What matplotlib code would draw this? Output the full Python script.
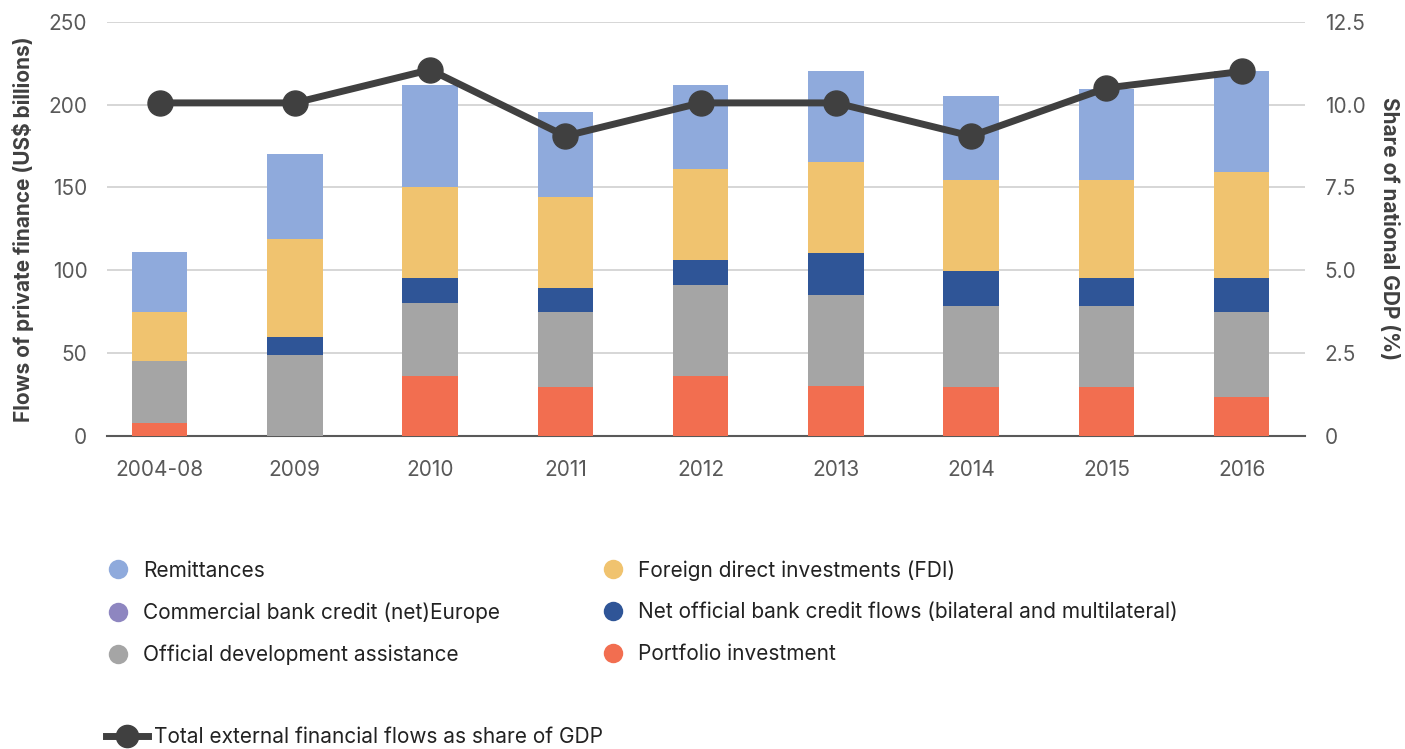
import numpy as np
import matplotlib.pyplot as plt
from matplotlib.lines import Line2D

plt.rcParams['font.family'] = ['Inter', 'DejaVu Sans']

# Données (US$ milliards, valeurs empilées)
years = ["2004-08", "2009", "2010", "2011", "2012", "2013", "2014", "2015", "2016"]
portfolio = [8, 0, 36, 29.5, 36, 30, 29.5, 29.5, 23.5]
oda = [37, 49, 44, 45, 55, 55, 49, 49, 51]
commercial = [0, 0, 0, 0, 0, 0, 0, 0, 0]
net_official = [0, 11, 15.5, 15, 15, 25.5, 21, 17, 21]
fdi = [29.5, 59, 55, 55, 55, 55, 55, 59, 63.5]
remittances = [36.5, 51, 61.5, 51, 51, 54.5, 50.5, 55, 61.5]
share_gdp = [10.05, 10.05, 11.05, 9.05, 10.05, 10.05, 9.05, 10.5, 11.0]

series = [
    ("Portfolio investment", portfolio, "#F26E50"),
    ("Official development assistance", oda, "#A5A5A5"),
    ("Commercial bank credit (net)Europe", commercial, "#8E86C0"),
    ("Net official bank credit flows (bilateral and multilateral)", net_official, "#2F5597"),
    ("Foreign direct investments (FDI)", fdi, "#F0C36F"),
    ("Remittances", remittances, "#8FAADC"),
]
couleurs = {nom: c for nom, _, c in series}

fig = plt.figure(figsize=(14.05, 7.49), dpi=100)
ax = fig.add_axes([0.076, 0.418, 0.853, 0.553])
x = np.arange(len(years))

bas = np.zeros(len(years))
for nom, vals, c in series:
    v = np.array(vals, dtype=float)
    ax.bar(x, v, bottom=bas, width=0.41, color=c, zorder=3)
    bas += v

ax.set_ylim(0, 250)
ax.set_yticks([0, 50, 100, 150, 200, 250])
ax.set_xlim(-0.39, len(years) - 0.53)
ax.set_xticks(x)
ax.set_xticklabels(years)
ax.grid(axis='y', color='#D0D0D0', linewidth=1.2, zorder=0)
for s in ['top', 'right', 'left']:
    ax.spines[s].set_visible(False)
ax.spines['bottom'].set_color('#595959')
ax.spines['bottom'].set_linewidth(1.5)
ax.tick_params(axis='both', length=0, labelsize=15, colors='#595959')
ax.tick_params(axis='x', pad=17)
ax.tick_params(axis='y', pad=14)
ax.set_ylabel("Flows of private finance (US$ billions)", fontsize=15,
              fontweight='bold', color='#404040', labelpad=10)

ax2 = ax.twinx()
ax2.plot(x, share_gdp, color='#404040', linewidth=5, marker='o', markersize=18, zorder=5)
ax2.set_ylim(0, 12.5)
ax2.set_yticks([0, 2.5, 5.0, 7.5, 10.0, 12.5])
ax2.set_yticklabels(["0", "2.5", "5.0", "7.5", "10.0", "12.5"])
for s in ax2.spines.values():
    s.set_visible(False)
ax2.tick_params(axis='y', length=0, labelsize=15, colors='#595959', pad=14)
ax2.set_ylabel("Share of national GDP (%)", fontsize=15, fontweight='bold',
               color='#404040', rotation=270, labelpad=24)

# Légende des barres (deux colonnes)
ordre = ["Remittances", "Commercial bank credit (net)Europe", "Official development assistance",
         "Foreign direct investments (FDI)",
         "Net official bank credit flows (bilateral and multilateral)", "Portfolio investment"]
poignees = [Line2D([], [], linestyle='none', marker='o', markersize=14,
                   markerfacecolor=couleurs[n], markeredgecolor='none') for n in ordre]
fig.legend(poignees, ordre, loc='center left', bbox_to_anchor=(0.062, 0.182),
           ncol=2, frameon=False, fontsize=15, columnspacing=4.8, handlelength=1.2,
           handletextpad=0.6, labelspacing=1.05, labelcolor='#222222')

# Légende de la ligne
ligne = Line2D([], [], color='#404040', linewidth=5, marker='o', markersize=16)
fig.legend([ligne], ["Total external financial flows as share of GDP"], loc='center left',
           bbox_to_anchor=(0.062, 0.016), frameon=False, fontsize=15, handlelength=2.0,
           handletextpad=0.3, labelcolor='#222222')

fig.savefig("out.png", dpi=100)
